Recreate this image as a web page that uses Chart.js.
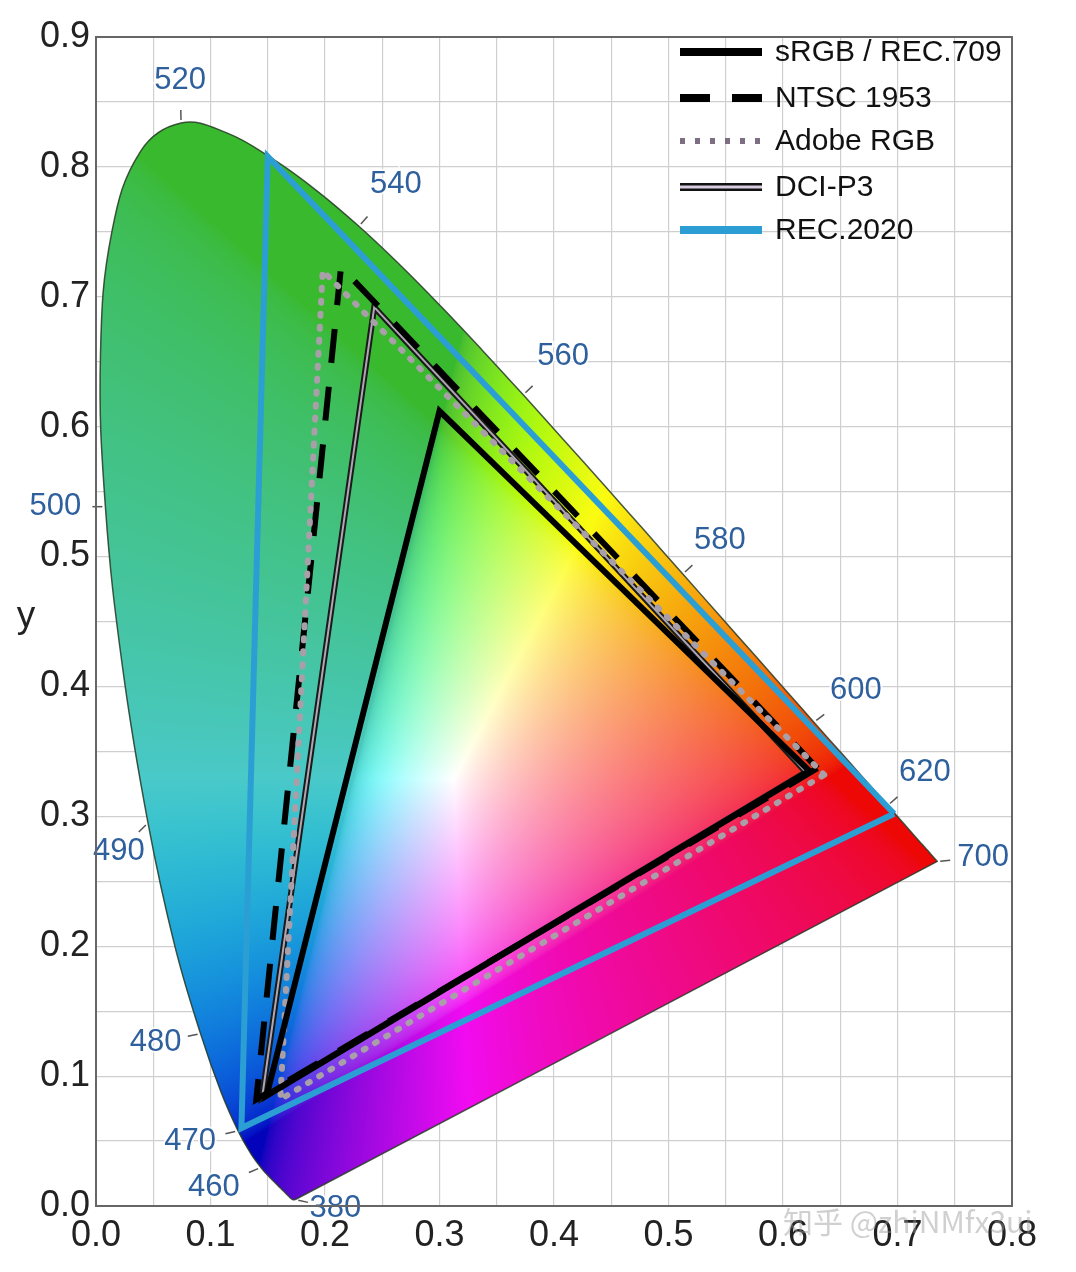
<!DOCTYPE html>
<html><head><meta charset="utf-8">
<script src="https://cdn.jsdelivr.net/npm/chart.js@4.4.1/dist/chart.umd.min.js"></script>
<style>html,body{margin:0;padding:0;background:#fff}#wrap{width:1076px;height:1272px;position:relative;background:#fff}</style>
</head><body><div id="wrap"><canvas id="c" width="1076" height="1272"></canvas></div>
<script>
// Spectral locus (CIE 1931 2°) – wavelength in nm, chromaticity x / y
const wavelengths = [380,385,390,395,400,405,410,415,420,425,430,435,440,445,450,455,460,465,470,475,480,485,490,495,500,505,510,515,520,525,530,535,540,545,550,555,560,565,570,575,580,585,590,595,600,605,610,615,620,625,630,635,640,645,650,655,660,665,670,680,690,700];
const locusX = [0.1741,0.1740,0.1738,0.1736,0.1733,0.1730,0.1726,0.1721,0.1714,0.1703,0.1689,0.1669,0.1644,0.1611,0.1566,0.1510,0.1440,0.1355,0.1241,0.1096,0.0913,0.0687,0.0454,0.0235,0.0082,0.0039,0.0139,0.0389,0.0743,0.1142,0.1547,0.1929,0.2296,0.2658,0.3016,0.3373,0.3731,0.4087,0.4441,0.4788,0.5125,0.5448,0.5752,0.6029,0.6270,0.6482,0.6658,0.6801,0.6915,0.7006,0.7079,0.7140,0.7190,0.7230,0.7260,0.7283,0.7300,0.7311,0.7320,0.7334,0.7344,0.7347];
const locusY = [0.0050,0.0050,0.0049,0.0049,0.0048,0.0048,0.0048,0.0048,0.0051,0.0058,0.0069,0.0086,0.0109,0.0138,0.0177,0.0227,0.0297,0.0399,0.0578,0.0868,0.1327,0.2007,0.2950,0.4127,0.5384,0.6548,0.7502,0.8120,0.8338,0.8262,0.8059,0.7816,0.7543,0.7243,0.6923,0.6589,0.6245,0.5896,0.5547,0.5202,0.4866,0.4544,0.4242,0.3965,0.3725,0.3514,0.3340,0.3197,0.3083,0.2993,0.2920,0.2859,0.2809,0.2770,0.2740,0.2717,0.2700,0.2689,0.2680,0.2666,0.2656,0.2653];
const labelledWavelengths = [380,460,470,480,490,500,520,540,560,580,600,620,700];

// Gamut triangles: vertices R, G, B
const gamutLabels = ['sRGB / REC.709','NTSC 1953','Adobe RGB','DCI-P3','REC.2020'];
const srgbX  = [0.623, 0.300, 0.149];  const srgbY  = [0.335, 0.612, 0.085];
const ntscX  = [0.630, 0.214, 0.140];  const ntscY  = [0.337, 0.723, 0.082];
const adobeX = [0.636, 0.198, 0.161];  const adobeY = [0.332, 0.720, 0.082];
const p3X    = [0.620, 0.243, 0.145];  const p3Y    = [0.334, 0.692, 0.083];
const rec2020X = [0.697, 0.150, 0.127]; const rec2020Y = [0.302, 0.808, 0.060];

const xTickValues = [0.0,0.1,0.2,0.3,0.4,0.5,0.6,0.7,0.8];
const yTickValues = [0.0,0.1,0.2,0.3,0.4,0.5,0.6,0.7,0.8,0.9];

function pts(xs, ys, close) {
  const p = xs.map((x, i) => ({x, y: ys[i]}));
  if (close) p.push({x: xs[0], y: ys[0]});
  return p;
}

// chromaticity colour for fill pattern
function xyToRGB(x, y) {
  if (y < 0.0005) y = 0.0005;
  const X = x / y, Y = 1, Z = (1 - x - y) / y;
  let r = 3.2406*X - 1.5372*Y - 0.4986*Z;
  let g = -0.9689*X + 1.8758*Y + 0.0415*Z;
  let b = 0.0557*X - 0.2040*Y + 1.0570*Z;
  r = Math.max(r, 0); g = Math.max(g, 0); b = Math.max(b, 0);
  const m = Math.max(r, g, b) || 1;
  r /= m; g /= m; b /= m;
  const rLin = r;
  const gm = v => v <= 0.0031308 ? 12.92*v : 1.055*Math.pow(v, 1/2.4) - 0.055;
  r = gm(r); g = gm(g); b = gm(b);
  const mx = Math.max(r, g, b), mn = Math.min(r, g, b);
  const sat = mx > 0 ? 1 - mn / mx : 0;
  const L = 0.3*r + 0.55*g + 0.15*b;
  const q = Math.pow(g*(1 - Math.min(1, rLin*1.6)), 3);
  const amt = sat * (0.1 + 0.35*q);
  const dark = 1 - sat*(0.09*q + 0.2*b*(1 - g)*(1 - g)*(1 - r));
  const bt = L*(0.8 + 0.2*b);
  r = r + (L - r)*amt; g = g + (L - g)*amt; b = b + (bt - b)*amt;
  return [r*dark*255, g*dark*255, b*dark*255];
}
let patternCache = null;
function spectrumFill(ctx) {
  const chart = ctx.chart;
  const area = chart.chartArea;
  if (!area || !chart.scales.x) return 'rgba(0,0,0,0)';
  const key = [area.left, area.top, area.right, area.bottom, chart.width, chart.height].join(',');
  if (patternCache && patternCache.key === key) return patternCache.pattern;
  const xs = chart.scales.x, ys = chart.scales.y;
  const off = document.createElement('canvas');
  off.width = chart.width; off.height = chart.height;
  const octx = off.getContext('2d');
  const img = octx.createImageData(off.width, off.height);
  const d = img.data;
  for (let py = Math.max(0, Math.floor(area.top)); py < Math.min(off.height, Math.ceil(area.bottom)); py++) {
    const yv = ys.getValueForPixel(py + 0.5);
    for (let px = Math.max(0, Math.floor(area.left)); px < Math.min(off.width, Math.ceil(area.right)); px++) {
      const xv = xs.getValueForPixel(px + 0.5);
      if (xv + yv > 1 || xv < 0) continue;
      const c = xyToRGB(xv, yv);
      const i = (py * off.width + px) * 4;
      d[i] = c[0]; d[i+1] = c[1]; d[i+2] = c[2]; d[i+3] = 255;
    }
  }
  octx.putImageData(img, 0, 0);
  const pattern = chart.ctx.createPattern(off, 'no-repeat');
  patternCache = {key, pattern};
  return pattern;
}

const labelOffsets = {380:[40,9],460:[-47,20],470:[-48,11],480:[-45,9],490:[-29,29],500:[-50,0],520:[-1,-43],540:[37,-42],560:[40,-38],580:[37,-34],600:[42,-32],620:[37,-33],700:[46,-4]};

const wavelengthLabels = {
  id: 'wavelengthLabels',
  afterDatasetsDraw(chart) {
    const c = chart.ctx, xs = chart.scales.x, ys = chart.scales.y;
    c.save();
    c.font = '31px "Liberation Sans", Arial, sans-serif';
    c.textAlign = 'center'; c.textBaseline = 'middle';
    labelledWavelengths.forEach(w => {
      const i = wavelengths.indexOf(w);
      const px = xs.getPixelForValue(locusX[i]), py = ys.getPixelForValue(locusY[i]);
      const o = labelOffsets[w];
      const len = Math.hypot(o[0], o[1]);
      const dx = o[0]/len, dy = o[1]/len;
      c.strokeStyle = '#555'; c.lineWidth = 1.5;
      c.beginPath(); c.moveTo(px + dx*3, py + dy*3); c.lineTo(px + dx*13, py + dy*13); c.stroke();
      c.lineWidth = 4; c.strokeStyle = 'rgba(255,255,255,0.8)';
      c.strokeText(String(w), px + o[0], py + o[1]);
      c.fillStyle = '#2f609e';
      c.fillText(String(w), px + o[0], py + o[1]);
    });
    c.restore();
  }
};

const frameAndText = {
  id: 'frameAndText',
  afterDraw(chart) {
    const c = chart.ctx, a = chart.chartArea;
    c.save();
    c.strokeStyle = '#666'; c.lineWidth = 2;
    c.strokeRect(a.left, a.top, a.right - a.left, a.bottom - a.top);
    c.fillStyle = '#222';
    c.font = '37px "Liberation Sans", Arial, sans-serif';
    c.textAlign = 'center'; c.textBaseline = 'alphabetic';
    c.fillText('y', 26, 627);
    // legend
    const rows = [52, 98, 141, 187, 230];
    const x0 = a.right - 332, x1 = a.right - 250, tx = a.right - 237;
    c.font = '30px "Liberation Sans", Arial, sans-serif';
    c.textAlign = 'left'; c.textBaseline = 'middle';
    rows.forEach((ry, k) => {
      c.save();
      c.lineCap = 'butt';
      if (k === 0) { c.strokeStyle = '#000'; c.lineWidth = 8; }
      if (k === 1) { c.strokeStyle = '#000'; c.lineWidth = 8; c.setLineDash([30, 22]); }
      if (k === 2) { c.strokeStyle = '#7e6e82'; c.lineWidth = 6; c.setLineDash([5, 10]); }
      if (k === 3) { c.strokeStyle = '#111'; c.lineWidth = 8; }
      if (k === 4) { c.strokeStyle = '#2b9fd3'; c.lineWidth = 8; }
      c.beginPath(); c.moveTo(x0, ry); c.lineTo(x1, ry); c.stroke();
      if (k === 3) { c.strokeStyle = '#d8cde0'; c.lineWidth = 3; c.beginPath(); c.moveTo(x0, ry); c.lineTo(x1, ry); c.stroke(); }
      c.restore();
      c.fillStyle = '#111';
      c.fillText(gamutLabels[k], tx, ry + 1);
    });
    // watermark
    c.font = '30px "Noto Sans CJK SC", sans-serif';
    c.fillStyle = 'rgba(150,150,150,0.45)';
    c.textAlign = 'left';
    c.fillText('知乎 @zhiNMfx3ui', 783, 1222);
    c.restore();
  }
};

const tickFont = {size: 36, family: '"Liberation Sans", Arial, sans-serif'};
function fmt(list) {
  return v => {
    const r = Math.round(v * 100) / 100;
    return list.some(t => Math.abs(t - r) < 1e-6) ? r.toFixed(1) : '';
  };
}

new Chart(document.getElementById('c'), {
  type: 'scatter',
  data: {
    datasets: [
      { label: 'locus', data: pts(locusX, locusY, true), showLine: true, fill: 'shape',
        backgroundColor: spectrumFill, borderColor: 'rgba(40,60,40,0.85)', borderWidth: 1.5,
        pointRadius: 0, order: 10, tension: 0.4 },
      { label: gamutLabels[4], data: pts(rec2020X, rec2020Y, true), showLine: true, fill: false,
        borderColor: '#2b9fd3', borderWidth: 6, borderJoinStyle: 'miter', pointRadius: 0, order: 6 },
      { label: gamutLabels[3], data: pts(p3X, p3Y, true), showLine: true, fill: false,
        borderColor: '#1a1a1a', borderWidth: 6, borderJoinStyle: 'miter', pointRadius: 0, order: 5 },
      { label: 'DCI-P3 inner', data: pts(p3X, p3Y, true), showLine: true, fill: false,
        borderColor: 'rgba(225,215,232,0.75)', borderWidth: 2, borderJoinStyle: 'miter', pointRadius: 0, order: 4 },
      { label: gamutLabels[1], data: pts(ntscX, ntscY, true), showLine: true, fill: false,
        borderColor: '#000', borderWidth: 6, borderDash: [34, 24], pointRadius: 0, order: 3 },
      { label: gamutLabels[2], data: pts(adobeX, adobeY, true), showLine: true, fill: false,
        borderColor: '#a89fa8', borderWidth: 6, borderDash: [2, 11], borderCapStyle: 'round', pointRadius: 0, order: 2 },
      { label: gamutLabels[0], data: pts(srgbX, srgbY, true), showLine: true, fill: false,
        borderColor: '#000', borderWidth: 6, borderJoinStyle: 'miter', pointRadius: 0, order: 1 }
    ]
  },
  options: {
    responsive: false, animation: false, devicePixelRatio: 1, events: [],
    layout: { padding: { top: 37, right: 64, left: 0, bottom: 0 } },
    plugins: { legend: { display: false }, tooltip: { enabled: false } },
    scales: {
      x: { type: 'linear', min: 0, max: 0.8,
        ticks: { stepSize: 0.05, autoSkip: false, maxRotation: 0, minRotation: 0, font: tickFont, color: '#222', padding: 8, callback: fmt(xTickValues) },
        grid: { color: '#cfcfcf', lineWidth: 1.2, drawTicks: false }, border: { display: false },
        afterFit: s => { s.height = 66; } },
      y: { type: 'linear', min: 0, max: 0.9,
        ticks: { stepSize: 0.05, autoSkip: false, font: tickFont, color: '#222', padding: 6, callback: fmt(yTickValues) },
        grid: { color: '#cfcfcf', lineWidth: 1.2, drawTicks: false }, border: { display: false },
        afterFit: s => { s.width = 96; } }
    }
  },
  plugins: [wavelengthLabels, frameAndText]
});
</script></body></html>
